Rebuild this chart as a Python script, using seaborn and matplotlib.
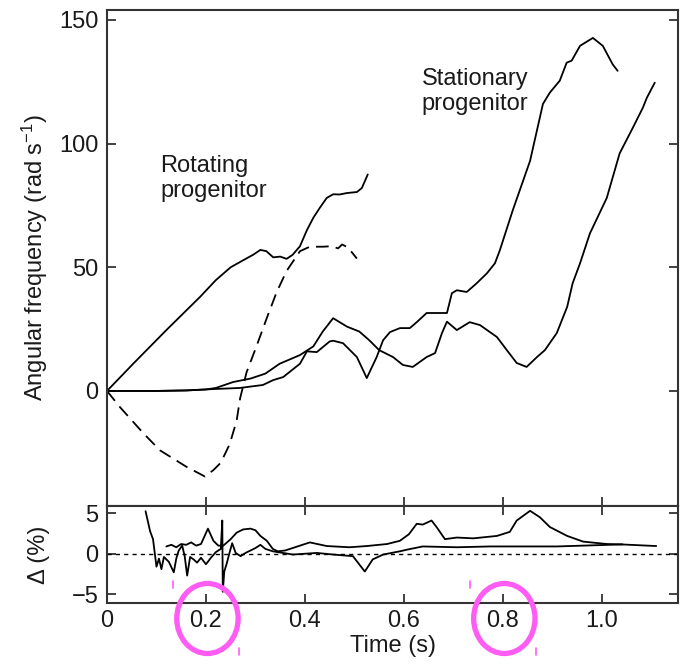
import numpy as np
import pandas as pd
import matplotlib
matplotlib.use("Agg")
import matplotlib.pyplot as plt
import matplotlib.transforms as mtransforms
from matplotlib.patches import Ellipse
from matplotlib.lines import Line2D
import seaborn as sns

# ---------------- data ----------------
rot_solid_t = [0, 0.053, 0.12, 0.188, 0.22, 0.25, 0.275, 0.295, 0.31, 0.322, 0.336, 0.35,
               0.363, 0.375, 0.39, 0.404, 0.417, 0.43, 0.444, 0.457, 0.47, 0.485, 0.505,
               0.515, 0.527]
rot_solid_w = [0, 11, 24.6, 38, 44.8, 50, 52.8, 55, 57, 56.5, 54, 54.3,
               53.4, 55, 58.5, 65, 70, 74, 78, 79.5, 79.4, 80, 80.4,
               82, 87.5]

rot_dash_t = [0, 0.026, 0.073, 0.107, 0.16, 0.198, 0.215, 0.23, 0.248, 0.262, 0.269, 0.282,
              0.302, 0.323, 0.343, 0.363, 0.39, 0.41, 0.436, 0.455, 0.467, 0.475, 0.487, 0.505]
rot_dash_w = [0, -6.5, -17, -24, -30.6, -34.6, -32, -29, -21.5, -12, -3, 7.5,
              18, 29.5, 40, 48.5, 56.5, 58.3, 58.3, 58.5, 57.6, 59.2, 58, 53.5]

stat_a_t = [0, 0.1, 0.16, 0.22, 0.268, 0.315, 0.336, 0.356, 0.39, 0.404, 0.424, 0.45, 0.457,
            0.477, 0.505, 0.525, 0.545, 0.558, 0.572, 0.592, 0.612, 0.626, 0.646, 0.687,
            0.697, 0.707, 0.727, 0.747, 0.768, 0.784, 0.794, 0.82, 0.855, 0.881, 0.895,
            0.915, 0.929, 0.939, 0.956, 0.982, 1.002, 1.022, 1.032]
stat_a_w = [0, 0, 0.2, 0.8, 1.2, 2.4, 4.4, 5.6, 11, 16, 15.7, 20, 20.3,
            19.3, 13.7, 5.2, 13.7, 20.5, 23.8, 25.4, 25.4, 27.8, 31.5, 31.5,
            39.5, 40.7, 40, 43.5, 47.6, 51.6, 56.9, 73, 93, 116, 120.6,
            125.4, 132.7, 133.5, 139.5, 142.7, 139.5, 132, 129.4]

stat_b_t = [0, 0.1, 0.16, 0.2, 0.22, 0.255, 0.29, 0.32, 0.349, 0.39, 0.417, 0.436, 0.457,
            0.485, 0.51, 0.53, 0.55, 0.578, 0.598, 0.618, 0.646, 0.663, 0.677, 0.687,
            0.707, 0.733, 0.754, 0.788, 0.808, 0.828, 0.848, 0.869, 0.885, 0.909, 0.93,
            0.941, 0.956, 0.976, 1.01, 1.036, 1.063, 1.083, 1.091, 1.107]
stat_b_w = [0, 0, 0.2, 0.6, 1.2, 3.6, 5.0, 7.0, 11, 14.5, 18, 24, 29.4,
            26, 24, 20.5, 16.5, 13.7, 10.5, 9.7, 13.7, 15.3, 23.4, 28,
            24.6, 27.8, 26.6, 21.8, 16.5, 11.3, 9.7, 13.7, 16.5, 23.4, 34,
            43.5, 51.6, 63.7, 78, 96, 106.5, 114.5, 118.5, 124.6]

delta_a_t = [0.12, 0.13, 0.14, 0.15, 0.16, 0.17, 0.18, 0.19, 0.204, 0.215, 0.225, 0.235,
             0.25, 0.262, 0.275, 0.29, 0.3, 0.31, 0.323, 0.335, 0.345, 0.36, 0.38, 0.41,
             0.444, 0.49, 0.525, 0.566, 0.592, 0.61, 0.626, 0.638, 0.656, 0.666, 0.683,
             0.707, 0.74, 0.788, 0.814, 0.828, 0.855, 0.875, 0.895, 0.93, 0.962, 1.01, 1.042]
delta_a_v = [0.9, 1.1, 0.8, 1.2, 1.1, 1.4, 1.0, 1.2, 3.1, 1.6, 1.0, 1.0,
             1.8, 2.6, 3.0, 3.1, 2.9, 2.2, 1.6, 0.6, 0.3, 0.4, 0.8, 1.4,
             0.95, 0.8, 0.95, 1.2, 1.6, 2.4, 3.7, 3.6, 4.1, 3.3, 1.8,
             2.0, 1.9, 2.2, 2.7, 4.1, 5.3, 4.5, 3.3, 2.2, 1.5, 1.2, 1.15]

delta_b_t = [0.078, 0.087, 0.093, 0.1, 0.105, 0.11, 0.115, 0.125, 0.135, 0.14, 0.145, 0.152,
             0.157, 0.162, 0.168, 0.175, 0.182, 0.19, 0.2, 0.21, 0.22, 0.23, 0.233, 0.234,
             0.237, 0.242, 0.248, 0.253, 0.26, 0.27, 0.28, 0.3, 0.31, 0.32, 0.335, 0.376,
             0.424, 0.457, 0.497, 0.521, 0.537, 0.558, 0.592, 0.606, 0.638, 0.707, 0.774,
             0.909, 1.04, 1.11]
delta_b_v = [5.25, 2.8, 1.8, -1.6, -0.6, -1.9, -0.4, -1.0, -2.3, -0.6, 0.4, 1.0,
             -0.3, -2.7, -0.4, -0.7, -1.1, -0.5, -1.3, -0.5, 0.2, 0.6, 4.1, -4.7,
             -2.2, -1.2, 0.2, 1.3, 0.1, -0.3, 0.1, 0.7, 1.1, 0.6, 0.3, -0.1,
             0.1, -0.1, -0.3, -2.2, -0.7, -0.1, 0.3, 0.5, 0.9, 0.8, 0.9,
             0.9, 1.15, 0.95]

x_ticks = [0, 0.2, 0.4, 0.6, 0.8, 1.0]
x_tick_labels = ["0", "0.2", "0.4", "0.6", "0.8", "1.0"]
top_y_ticks = [0, 50, 100, 150]
bottom_y_ticks = [-5, 0, 5]
highlighted_ticks = [0.2, 0.8]

# ---------------- style ----------------
sns.set_theme(style="ticks")
plt.rcParams['font.family'] = ['Liberation Sans', 'DejaVu Sans']
plt.rcParams['mathtext.fontset'] = 'custom'
plt.rcParams['mathtext.rm'] = 'Liberation Sans'
plt.rcParams['mathtext.it'] = 'Liberation Sans:italic'
plt.rcParams['axes.unicode_minus'] = True

FS = 17
TXT = '#1a1a1a'
SP = '#333333'

fig = plt.figure(figsize=(6.85, 6.64), dpi=100)
ax1 = fig.add_axes([0.1562, 0.2380, 0.8336, 0.7470])
ax2 = fig.add_axes([0.1562, 0.0923, 0.8336, 0.1457])


def draw(ax, t, v, ls='-'):
    df = pd.DataFrame({'t': t, 'v': v})
    sns.lineplot(data=df, x='t', y='v', ax=ax, color='black', linewidth=1.3,
                 linestyle=ls, estimator=None, sort=False)


draw(ax1, rot_solid_t, rot_solid_w)
draw(ax1, rot_dash_t, rot_dash_w, ls=(0, (7, 4)))
draw(ax1, stat_a_t, stat_a_w)
draw(ax1, stat_b_t, stat_b_w)

draw(ax2, delta_a_t, delta_a_v)
draw(ax2, delta_b_t, delta_b_v)
ax2.axhline(0, color='black', linewidth=1.0, linestyle=(0, (3, 3)))

for ax in (ax1, ax2):
    ax.set_xlim(0, 1.154)
    ax.set_xticks(x_ticks)
    for s in ax.spines.values():
        s.set_linewidth(1.5)
        s.set_color(SP)
        s.set_visible(True)
    ax.set_xlabel('')
    ax.set_ylabel('')

ax1.set_ylim(-46.5, 154)
ax1.set_yticks(top_y_ticks)
ax1.tick_params(axis='both', direction='in', length=6.5, width=1.3, color=SP,
                labelsize=FS, labelcolor=TXT, right=True, top=False, labelbottom=False)
ax1.tick_params(axis='y', pad=6)

ax2.set_ylim(-6.05, 5.9)
ax2.set_yticks(bottom_y_ticks)
ax2.set_xticklabels(x_tick_labels)
ax2.tick_params(axis='both', direction='in', length=6.5, width=1.3, color=SP,
                labelsize=FS, labelcolor=TXT, right=True, top=True)
ax2.tick_params(axis='y', pad=6)
ax2.tick_params(axis='x', pad=5)

ax1.set_ylabel('Angular frequency (rad s$^{-1}$)', fontsize=FS, color=TXT)
ax1.yaxis.set_label_coords(-0.100, 0.5)
ax2.set_ylabel('Δ (%)', fontsize=FS, color=TXT)
ax2.yaxis.set_label_coords(-0.100, 0.5)
ax2.set_xlabel('Time (s)', fontsize=FS, color=TXT)
ax2.xaxis.set_label_coords(0.5, -0.33)

ax1.text(0.107, 95.5, 'Rotating\nprogenitor', fontsize=FS, color=TXT, ha='left', va='top')
ax1.text(0.636, 130.5, 'Stationary\nprogenitor', fontsize=FS, color=TXT, ha='left', va='top')

# magenta highlight circles around selected tick labels
trans = mtransforms.blended_transform_factory(ax2.transData, fig.transFigure)
PINK = '#ff5cf4'
for xt in highlighted_ticks:
    e = Ellipse((xt + 0.003, 1 - 618.5 / 664), width=0.124, height=70 / 664,
                transform=trans, fill=False, edgecolor=PINK, linewidth=3.8,
                clip_on=False)
    fig.add_artist(e)
    fig.add_artist(Line2D([xt - 0.066, xt - 0.066], [1 - 581 / 664, 1 - 588 / 664],
                          transform=trans, color=PINK, linewidth=1.2))
    fig.add_artist(Line2D([xt + 0.066, xt + 0.066], [1 - 648 / 664, 1 - 655 / 664],
                          transform=trans, color=PINK, linewidth=1.2))

fig.savefig('out.png', dpi=100)
